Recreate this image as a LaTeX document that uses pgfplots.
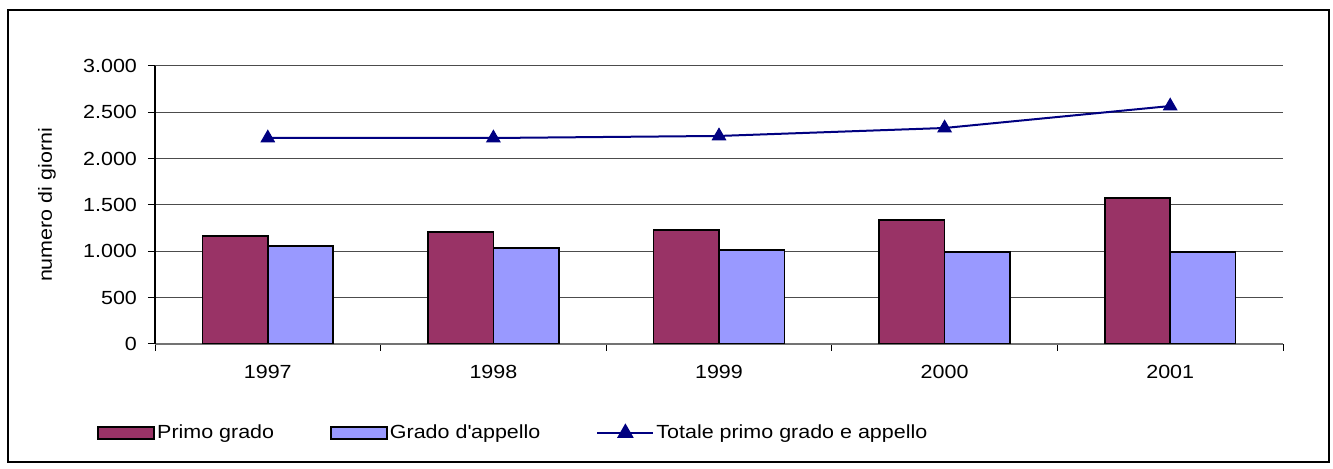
\documentclass[border=0pt]{standalone}
\usepackage{pgfplots}
\pgfplotsset{compat=1.18}
\usepackage{fontspec}
\setmainfont{Liberation Sans}[FakeStretch=1.13]
\definecolor{primo}{HTML}{993366}
\definecolor{appello}{HTML}{9999FF}
\definecolor{totale}{HTML}{000080}
\begin{document}
\begin{tikzpicture}[font=\fontsize{9.5}{11}\selectfont]
\useasboundingbox (0,0) rectangle (666.5pt,234.5pt);
\draw[line width=1pt] (4pt,3.5pt) rectangle (664.5pt,229.5pt);
\begin{axis}[
  at={(77.5pt,62.5pt)}, anchor=south west,
  scale only axis, width=564pt, height=139pt,
  xmin=-0.5, xmax=4.5, ymin=0, ymax=3000,
  axis x line*=bottom, axis y line*=left,
  x axis line style={draw=black!55, line width=0.6pt},
  y axis line style={draw=black, line width=0.6pt},
  tick align=outside, major tick length=3.5pt,
  tick style={black, line width=0.5pt},
  xtick={-0.5,0.5,1.5,2.5,3.5,4.5}, xticklabels={},
  extra x ticks={0,1,2,3,4},
  extra x tick labels={1997,1998,1999,2000,2001},
  extra x tick style={major tick length=0pt, grid=none, xticklabel style={yshift=-7pt}},
  ytick={0,500,1000,1500,2000,2500,3000},
  yticklabels={0,500,1.000,1.500,2.000,2.500,3.000},
  yticklabel style={xshift=-2pt},
  ymajorgrids, grid style={draw=black!70, line width=0.5pt},
  ylabel={numero di giorni},
  ylabel style={at={(axis description cs:-0.0957,0.5)}, anchor=center},
  legend columns=3,
  legend style={at={(axis description cs:-0.0514,-0.32)}, anchor=west,
    draw=none, fill=none, inner sep=0pt,
    nodes={inner sep=1pt},
    /tikz/every even column/.append style={column sep=27pt}},
  legend cell align=left,
]
\addplot[ybar, fill=primo, draw=black, line width=0.75pt, bar width=0.29, bar shift=-0.145,
  legend image code/.code={\draw[fill=primo,draw=black,line width=0.9pt] (0pt,-3pt) rectangle (28pt,3pt);}]
  coordinates {(0,1165) (1,1209) (2,1230) (3,1338) (4,1576)};
\addlegendentry{Primo grado}
\addplot[ybar, fill=appello, draw=black, line width=0.75pt, bar width=0.29, bar shift=0.145,
  legend image code/.code={\draw[fill=appello,draw=black,line width=0.9pt] (0pt,-3pt) rectangle (28pt,3pt);}]
  coordinates {(0,1058) (1,1036) (2,1014) (3,993) (4,993)};
\addlegendentry{Grado d\textquotesingle appello}
\addplot[totale, line width=1pt, mark=triangle*, mark size=3.8pt, mark options={fill=totale, draw=totale, line width=0.5pt},
  legend image code/.code={\draw[totale, line width=1pt] (0pt,0pt) -- (28pt,0pt);
    \fill[totale] (14pt,0pt) +(90:3.8pt) -- +(210:3.8pt) -- +(330:3.8pt) -- cycle;}]
  coordinates {(0,2223) (1,2223) (2,2245) (3,2331) (4,2568)};
\addlegendentry{Totale primo grado e appello}
\end{axis}
\end{tikzpicture}
\end{document}
